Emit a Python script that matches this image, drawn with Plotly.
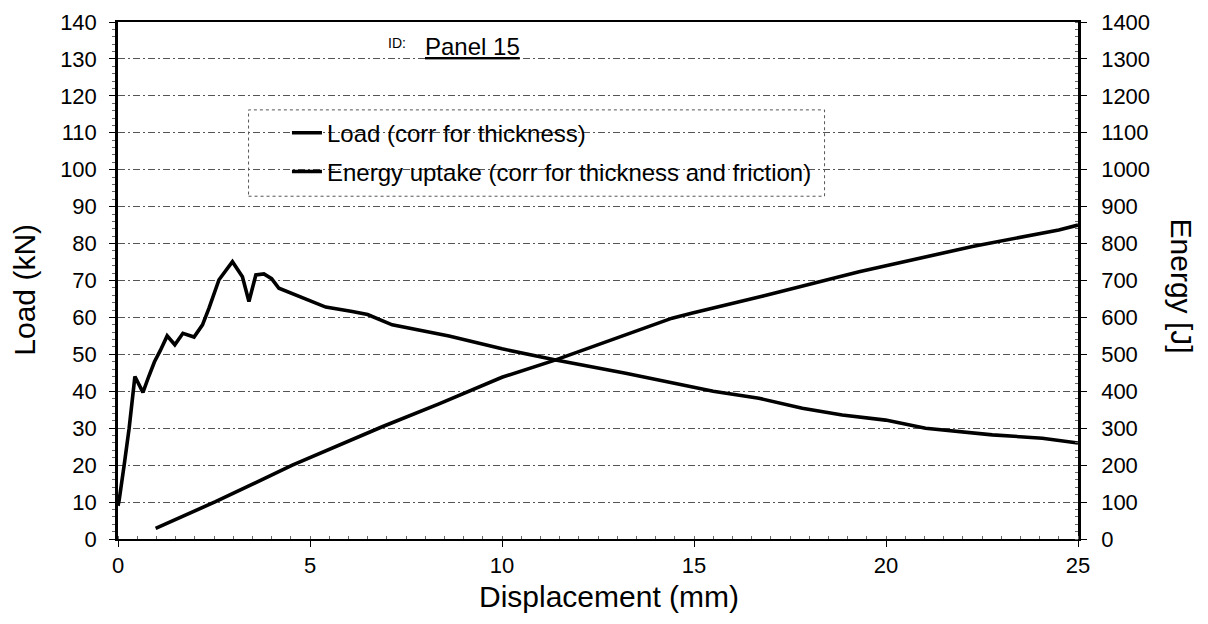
import plotly.graph_objects as go

# Load curve (corr for thickness)
load_x = [0, 0.03, 0.16, 0.29, 0.44, 0.65, 0.8, 0.95, 1.1, 1.28, 1.48, 1.69, 1.98, 2.2, 2.37, 2.63,
          2.98, 3.24, 3.41, 3.59, 3.8, 4.0, 4.19, 4.71, 5.41, 6.1, 6.5, 7.14, 8.36, 8.62, 10.0,
          11.4, 13.22, 14.43, 15.5, 16.69, 17.82, 18.86, 19.99, 21.03, 22.77, 24.07, 25.0]
load_y = [9, 10.5, 20, 30, 44, 39.7, 44, 48, 51, 55, 52.6, 55.7, 54.7, 58, 62.5, 70.2,
          75.1, 71, 64.3, 71.5, 71.8, 70.5, 67.9, 65.7, 62.8, 61.6, 60.8, 58, 55.7, 55, 51.5,
          48.5, 44.9, 42.2, 40.0, 38.1, 35.4, 33.6, 32.2, 30.0, 28.2, 27.3, 26.0]

# Energy uptake (corr for thickness and friction)
energy_x = [0.98, 2.54, 4.54, 6.88, 8.36, 9.31, 10.0, 11.4, 14.43, 14.96, 16.8, 19.3, 22.25, 24.5, 25.0]
energy_y = [29, 101, 200, 304, 366, 408, 438, 485, 598, 612, 658, 724, 792, 837, 850]

x_ticks = [0, 5, 10, 15, 20, 25]
load_ticks = list(range(0, 141, 10))
energy_ticks = list(range(0, 1401, 100))

FONT = "Liberation Sans, Arial, sans-serif"
TICK = 22
TITLE = 30

fig = go.Figure()
fig.add_trace(go.Scatter(x=load_x, y=load_y, mode="lines", name="Load (corr for thickness)",
                         line=dict(color="black", width=3.6), yaxis="y", legend="legend"))
fig.add_trace(go.Scatter(x=energy_x, y=energy_y, mode="lines",
                         name="Energy uptake (corr for thickness and friction)",
                         line=dict(color="black", width=3.6), yaxis="y2", legend="legend2"))

grid = dict(showgrid=True, gridcolor="#555555", gridwidth=1, griddash="7px,3px,2px,3px")

leg_common = dict(xanchor="left", yanchor="middle", bgcolor="rgba(0,0,0,0)", borderwidth=0,
                  font=dict(size=24, family=FONT, color="black"))

fig.update_layout(
    width=1200, height=616,
    margin=dict(l=110, r=130, t=14, b=85, autoexpand=False),
    paper_bgcolor="white", plot_bgcolor="white",
    font=dict(family=FONT, color="black", size=TICK),
    showlegend=True,
    legend=dict(x=0.176, y=0.785, **leg_common),
    legend2=dict(x=0.176, y=0.710, **leg_common),
    xaxis=dict(range=[0, 25], tickvals=x_ticks, showgrid=False, zeroline=False, automargin=False,
               showline=True, linecolor="black", linewidth=2, mirror=True,
               ticks="outside", ticklen=6, tickcolor="black", ticklabelstandoff=0,
               minor=dict(ticks="inside", ticklen=3, dtick=0.5, tickcolor="#666"),
               tickfont=dict(size=TICK)),
    yaxis=dict(range=[0, 140], tickvals=load_ticks, zeroline=False, automargin=False,
               showline=True, linecolor="black", linewidth=2.5,
               ticks="outside", ticklen=6, tickcolor="black", ticklabelstandoff=8,
               minor=dict(ticks="outside", ticklen=3, dtick=2, tickcolor="#666"),
               tickfont=dict(size=TICK), **grid),
    yaxis2=dict(range=[0, 1400], tickvals=energy_ticks, overlaying="y", side="right", automargin=False,
                showgrid=False, zeroline=False, showline=True, linecolor="black", linewidth=2.5,
                ticks="outside", ticklen=6, tickcolor="black", ticklabelstandoff=10,
                minor=dict(ticks="inside", ticklen=3, dtick=20, tickcolor="#666"),
                tickfont=dict(size=TICK)),
)

# axis titles
fig.add_annotation(xref="paper", yref="paper", x=0.511, y=-0.112, text="Displacement (mm)",
                   showarrow=False, xanchor="center", yanchor="middle", font=dict(size=TITLE))
fig.add_annotation(xref="paper", yref="paper", x=-0.097, y=0.482, text="Load (kN)", textangle=-90,
                   showarrow=False, xanchor="center", yanchor="middle", font=dict(size=TITLE))
fig.add_annotation(xref="paper", yref="paper", x=1.108, y=0.489, text="Energy [J]", textangle=90,
                   showarrow=False, xanchor="center", yanchor="middle", font=dict(size=TITLE))

# dashed legend frame with white fill (hides grid lines behind it)
fig.add_shape(type="rect", xref="paper", yref="paper", x0=0.136, x1=0.736, y0=0.663, y1=0.830,
              line=dict(color="#555555", width=1, dash="dot"), fillcolor="white", layer="between")

# ID label
fig.add_annotation(xref="paper", yref="paper", x=0.279, y=0.940, xanchor="left", yanchor="bottom",
                   text="ID:", showarrow=False, font=dict(size=14, family=FONT))
fig.add_annotation(xref="paper", yref="paper", x=0.318, y=0.922, xanchor="left", yanchor="bottom",
                   text="<u>Panel 15</u>", showarrow=False, font=dict(size=24, family=FONT))

fig.write_html("out.html")
